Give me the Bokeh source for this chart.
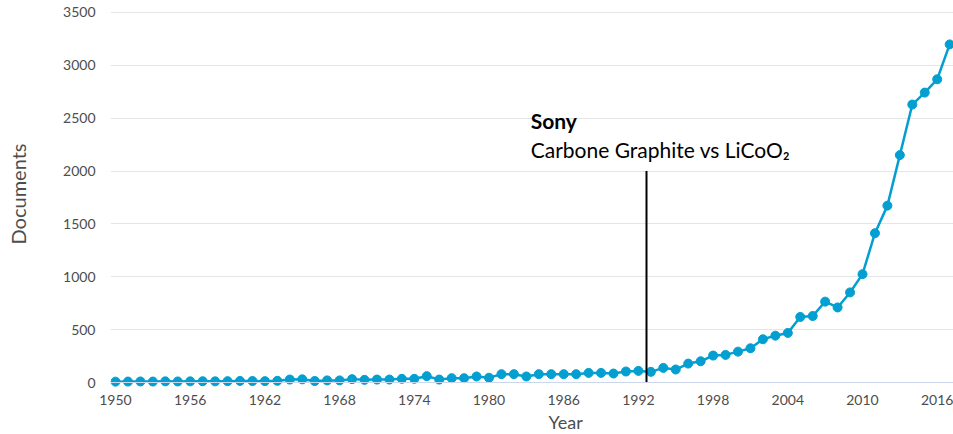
from bokeh.plotting import figure
from bokeh.models import Range1d, FixedTicker, Span, Label, Title, ColumnDataSource
from bokeh.embed import file_html
from bokeh.resources import INLINE

years = list(range(1950, 2018))
docs = [8, 9, 10, 9, 11, 10, 11, 12, 11, 13, 15, 14, 13, 16,
        28, 30, 14, 20, 20, 32, 25,
        28, 28, 35, 35, 60, 28, 41, 41, 57, 45, 79, 79, 57, 79, 79, 79, 79, 91, 91, 85, 104, 110,
        101, 138, 123, 179, 201, 255, 261, 292, 324, 409, 443, 469, 620, 629, 765, 710,
        852, 1025, 1412, 1673, 2151, 2629, 2742, 2868, 3198]
x_ticks = list(range(1950, 2017, 6))
y_ticks = list(range(0, 3501, 500))
event_year = 1992.65
event_top = 2000
note_bold = "Sony"
note_text = "Carbone Graphite vs LiCoO\u2082"
x_title = "Year"
y_title = "Documents"

FONT = "Lato"
SERIES = "#039fd0"
LABEL_COLOR = "#4d4d4d"

src = ColumnDataSource(dict(year=years, docs=docs))

p = figure(width=953, height=434, output_backend="svg", toolbar_location=None,
           x_range=Range1d(1949.598, 2017.309), y_range=Range1d(-47.2, 3613.2),
           min_border_left=110, min_border_right=0, min_border_top=0,
           min_border_bottom=46)
p.outline_line_color = None
p.background_fill_color = "white"
p.border_fill_color = "white"

p.xgrid.visible = False
p.ygrid.ticker = FixedTicker(ticks=y_ticks)
p.ygrid.grid_line_color = "#e6e6e6"
p.ygrid.grid_line_width = 1

for ax in (p.xaxis[0], p.yaxis[0]):
    ax.axis_line_color = None
    ax.major_tick_line_color = None
    ax.minor_tick_line_color = None
    ax.major_tick_out = 0
    ax.major_tick_in = 0
    ax.major_label_text_font = FONT
    ax.major_label_text_font_size = "14px"
    ax.major_label_text_color = LABEL_COLOR

p.xaxis.ticker = FixedTicker(ticks=x_ticks)
p.xaxis.major_label_standoff = 7
p.yaxis.ticker = FixedTicker(ticks=y_ticks)
p.yaxis.major_label_standoff = 15
p.yaxis.axis_label = y_title
p.yaxis.axis_label_text_font = FONT
p.yaxis.axis_label_text_font_size = "20px"
p.yaxis.axis_label_text_font_style = "normal"
p.yaxis.axis_label_text_color = LABEL_COLOR
p.yaxis.axis_label_standoff = 30

p.add_layout(Title(text=x_title, align="left", offset=438, standoff=3,
                   text_font=FONT, text_font_size="18px",
                   text_font_style="normal", text_color=LABEL_COLOR), "below")

p.add_layout(Span(location=0, dimension="width", line_color="#ccd6eb", line_width=1))

p.line("year", "docs", source=src, line_color=SERIES, line_width=2.5)
p.scatter("year", "docs", source=src, size=9, fill_color=SERIES, line_color=SERIES)

p.segment(x0=[event_year], y0=[0], x1=[event_year], y1=[event_top],
          line_color="black", line_width=2)

p.add_layout(Label(x=1983.35, y=2481, text=note_bold, text_font=FONT,
                   text_font_style="bold", text_font_size="21px",
                   text_color="black", text_baseline="alphabetic"))
p.add_layout(Label(x=1983.35, y=2208, text=note_text, text_font=FONT,
                   text_font_size="21px", text_color="black",
                   text_baseline="alphabetic"))

open("out.html", "w").write(file_html(p, INLINE))
